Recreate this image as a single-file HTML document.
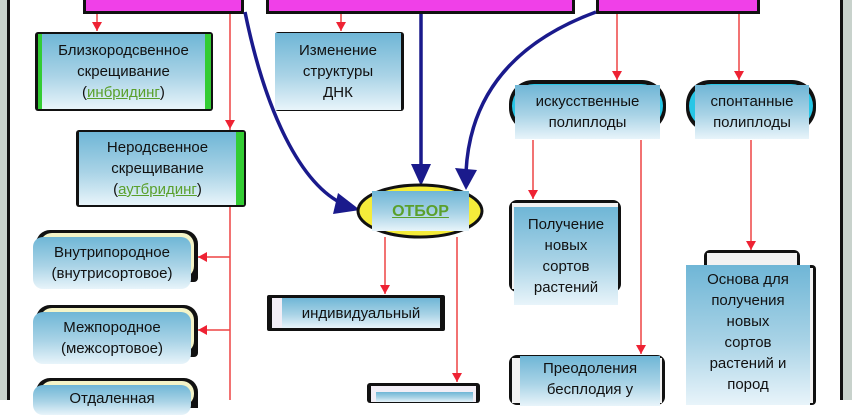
<!DOCTYPE html>
<html><head><meta charset="utf-8"><style>
body{margin:0;width:852px;height:400px;overflow:hidden;background:#fff;position:relative;font-family:"Liberation Sans","DejaVu Sans",sans-serif;}
.b{position:absolute;box-sizing:border-box;}
.g{background:linear-gradient(#6fb6d6,#a9d3e6 55%,#e8f4fa);}
.t{position:absolute;box-sizing:border-box;display:flex;align-items:center;justify-content:center;text-align:center;font-size:15px;line-height:21px;color:#111;}
.t>div{display:block;text-align:center;}
.lk{color:#5aa02c;text-decoration:underline;}
.mag{position:absolute;background:#f040e8;border:3px solid #111;box-sizing:border-box;}
</style></head><body>
<div class="b" style="left:0;top:0;width:7px;height:400px;background:#c8d2cc"></div>
<div class="b" style="left:7px;top:0;width:3px;height:400px;background:#111"></div>
<div class="b" style="left:840px;top:0;width:3px;height:400px;background:#111"></div>
<div class="b" style="left:843px;top:0;width:9px;height:400px;background:#c8d2cc"></div>

<div class="mag" style="left:83px;top:-5px;width:161px;height:19px"></div>
<div class="mag" style="left:266px;top:-5px;width:309px;height:19px"></div>
<div class="mag" style="left:596px;top:-5px;width:164px;height:19px"></div>

<svg class="b" style="left:0;top:0" width="852" height="400">
<g stroke="#e44" stroke-width="1.5" fill="none">
<line x1="97" y1="14" x2="97" y2="31"/><path d="M92,22 L102,22 L97,31z" fill="#e23" stroke="none"/>
<line x1="230" y1="14" x2="230" y2="400"/><path d="M225,120 L235,120 L230,129z" fill="#e23" stroke="none"/>
<line x1="341" y1="14" x2="341" y2="31"/><path d="M336,22 L346,22 L341,31z" fill="#e23" stroke="none"/>
<line x1="230" y1="257" x2="198" y2="257"/><path d="M207,252 L207,262 L198,257z" fill="#e23" stroke="none"/>
<line x1="230" y1="330" x2="198" y2="330"/><path d="M207,325 L207,335 L198,330z" fill="#e23" stroke="none"/>
<line x1="385" y1="237" x2="385" y2="294"/><path d="M380,285 L390,285 L385,294z" fill="#e23" stroke="none"/>
<line x1="457" y1="237" x2="457" y2="382"/><path d="M452,373 L462,373 L457,382z" fill="#e23" stroke="none"/>
<line x1="617" y1="14" x2="617" y2="80"/><path d="M612,71 L622,71 L617,80z" fill="#e23" stroke="none"/>
<line x1="739" y1="14" x2="739" y2="80"/><path d="M734,71 L744,71 L739,80z" fill="#e23" stroke="none"/>
<line x1="533" y1="140" x2="533" y2="199"/><path d="M528,190 L538,190 L533,199z" fill="#e23" stroke="none"/>
<line x1="641" y1="140" x2="641" y2="354"/><path d="M636,345 L646,345 L641,354z" fill="#e23" stroke="none"/>
<line x1="751" y1="140" x2="751" y2="250"/><path d="M746,241 L756,241 L751,250z" fill="#e23" stroke="none"/>
</g>
<g stroke="#1a1a8c" stroke-width="3.5" fill="none">
<path d="M245,12 C265,110 300,185 345,205"/>
<line x1="421" y1="14" x2="421" y2="170"/>
<path d="M596,12 C520,40 470,90 466,172"/>
</g>
<g fill="#1a1a8c">
<path d="M360,210 L338,193 L333,214z"/>
<path d="M421,186 L411,164 L431,164z"/>
<path d="M466,190 L455,168 L477,170z"/>
</g>
<ellipse cx="420" cy="211" rx="62" ry="26" fill="#f5ec3a" stroke="#111" stroke-width="3"/>
</svg>

<div class="b" style="left:35px;top:32px;width:178px;height:79px;background:#111;border-radius:3px"></div>
<div class="b" style="left:38px;top:34px;width:4px;height:75px;background:#3c3"></div>
<div class="b" style="left:205px;top:34px;width:6px;height:75px;background:#3c3"></div>
<div class="t g" style="left:42px;top:34px;width:163px;height:75px"><div>Близкородсвенное<br>скрещивание<br>(<span class="lk">инбридинг</span>)</div></div>

<div class="b" style="left:76px;top:130px;width:170px;height:77px;background:#111;border-radius:3px"></div>
<div class="b" style="left:236px;top:132px;width:8px;height:73px;background:#3c3"></div>
<div class="t g" style="left:79px;top:132px;width:157px;height:73px"><div>Неродсвенное<br>скрещивание<br>(<span class="lk">аутбридинг</span>)</div></div>

<div class="b" style="left:36px;top:230px;width:162px;height:52px;background:#111;border-radius:14px 14px 4px 14px"></div>
<div class="b" style="left:40px;top:233px;width:154px;height:45px;background:#f4f4c8;border-radius:12px"></div>
<div class="t g" style="left:33px;top:237px;width:158px;height:52px;border-radius:10px"><div>Внутрипородное<br>(внутрисортовое)</div></div>

<div class="b" style="left:36px;top:305px;width:162px;height:52px;background:#111;border-radius:14px 14px 4px 14px"></div>
<div class="b" style="left:40px;top:308px;width:154px;height:45px;background:#f4f4c8;border-radius:12px"></div>
<div class="t g" style="left:33px;top:312px;width:158px;height:52px;border-radius:10px"><div>Межпородное<br>(межсортовое)</div></div>

<div class="b" style="left:36px;top:378px;width:162px;height:30px;background:#111;border-radius:14px 14px 0 0"></div>
<div class="b" style="left:40px;top:381px;width:154px;height:25px;background:#f4f4c8;border-radius:12px"></div>
<div class="t g" style="left:33px;top:385px;width:158px;height:30px;border-radius:10px;align-items:flex-start;padding-top:3px"><div>Отдаленная</div></div>

<div class="b" style="left:275px;top:32px;width:129px;height:79px;background:#111;border-radius:3px"></div>
<div class="t g" style="left:275px;top:33px;width:126px;height:77px"><div>Изменение<br>структуры<br>ДНК</div></div>

<div class="t g" style="left:372px;top:191px;width:97px;height:40px;font-size:16px;font-weight:bold"><div><span class="lk">ОТБОР</span></div></div>

<div class="b" style="left:267px;top:295px;width:178px;height:36px;background:#111;border-radius:2px"></div>
<div class="b" style="left:272px;top:298px;width:168px;height:30px;background:#f2eef6"></div>
<div class="t g" style="left:282px;top:298px;width:158px;height:30px"><div>индивидуальный</div></div>

<div class="b" style="left:367px;top:383px;width:113px;height:20px;background:#111;border-radius:3px"></div>
<div class="b" style="left:371px;top:386px;width:105px;height:16px;background:#f2eef6"></div>
<div class="b g" style="left:376px;top:392px;width:97px;height:10px"></div>

<div class="b" style="left:509px;top:80px;width:157px;height:52px;background:#111;border-radius:24px"></div>
<div class="b" style="left:512px;top:84px;width:151px;height:44px;background:#27c6e6;border-radius:22px"></div>
<div class="t g" style="left:515px;top:85px;width:145px;height:54px"><div>искусственные<br>полиплоды</div></div>

<div class="b" style="left:686px;top:80px;width:130px;height:52px;background:#111;border-radius:24px"></div>
<div class="b" style="left:689px;top:84px;width:124px;height:44px;background:#27c6e6;border-radius:22px"></div>
<div class="t g" style="left:695px;top:85px;width:114px;height:54px"><div>спонтанные<br>полиплоды</div></div>

<div class="b" style="left:509px;top:200px;width:112px;height:92px;background:#111;border-radius:8px"></div>
<div class="b" style="left:512px;top:203px;width:106px;height:86px;background:#f2f2f2"></div>
<div class="t g" style="left:514px;top:207px;width:104px;height:98px"><div>Получение<br>новых<br>сортов<br>растений</div></div>

<div class="b" style="left:509px;top:355px;width:156px;height:50px;background:#111;border-radius:8px"></div>
<div class="b" style="left:512px;top:358px;width:150px;height:45px;background:#f2f2f2"></div>
<div class="t g" style="left:520px;top:356px;width:140px;height:50px;align-items:flex-start;padding-top:2px"><div>Преодоления<br>бесплодия у</div></div>

<div class="b" style="left:704px;top:250px;width:96px;height:20px;background:#111;border-radius:6px 6px 0 0"></div>
<div class="b" style="left:707px;top:253px;width:90px;height:15px;background:#f2f2f2"></div>
<div class="b" style="left:686px;top:265px;width:130px;height:140px;background:#111;border-radius:4px"></div>
<div class="b" style="left:689px;top:268px;width:124px;height:135px;background:#f2f2f2"></div>
<div class="t g" style="left:686px;top:265px;width:124px;height:140px;align-items:flex-start;padding-top:4px"><div>Основа для<br>получения<br>новых<br>сортов<br>растений и<br>пород</div></div>
</body></html>
